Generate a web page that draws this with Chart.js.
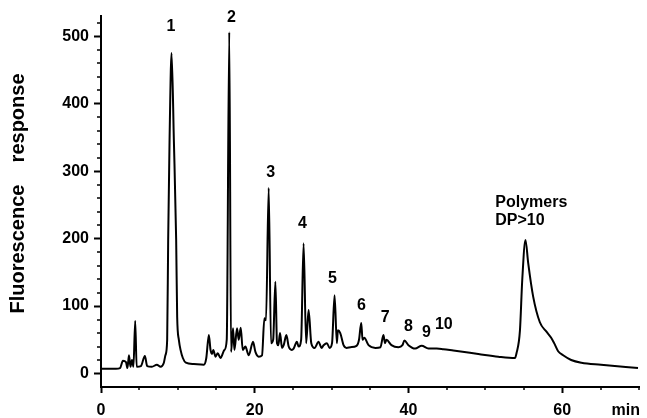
<!DOCTYPE html>
<html>
<head>
<meta charset="utf-8">
<script src="https://cdn.jsdelivr.net/npm/chart.js@4.4.1/dist/chart.umd.min.js"></script>
<style>
  html, body { margin: 0; padding: 0; background: #fff; }
  canvas { display: block; }
</style>
</head>
<body>
<canvas id="chrom" width="647" height="418"></canvas>
<script>
// Retention time (min) and fluorescence response
const times = [0, 1.95, 2.47, 2.86, 3.25, 3.44, 3.64, 3.83, 4.03, 4.22, 4.45, 4.64, 5.19, 5.71, 6.01, 6.62, 7.27, 7.75, 8.18, 8.38,
  8.61, 8.74, 8.92, 9.18, 9.48, 9.78, 9.91, 10.13, 10.35, 10.65, 11.04, 12.08, 13.38, 13.7, 14.03, 14.25, 14.45, 14.61, 14.9, 15.19,
  15.55, 16.06, 16.36, 16.69, 16.92, 17.18, 17.36, 17.7, 17.92, 18.18, 18.44, 18.79, 19.22, 19.78, 20.09, 20.52, 20.95, 21.26, 21.47, 21.82,
  22.12, 22.4, 22.69, 22.9, 23.08, 23.29, 23.55, 23.77, 24.12, 24.42, 24.81, 25.06, 25.49, 25.71, 26.04, 26.36, 26.69, 27.01, 27.36, 27.79,
  28.31, 28.7, 28.96, 29.39, 29.74, 30.06, 30.39, 30.69, 30.82, 31.13, 31.56, 31.95, 32.47, 33.25, 33.57, 33.86, 34.03, 34.25, 34.81, 35.71,
  36.36, 36.75, 36.95, 37.14, 37.79, 38.7, 39.22, 39.48, 40.0, 40.87, 41.73, 42.6, 43.68, 44.55, 45.84, 49.09, 51.69, 53.86, 54.06, 54.51,
  54.81, 55.23, 55.58, 56.23, 57.1, 57.96, 58.57, 58.96, 59.48, 60.13, 61.17, 62.51, 65.06, 69.87];
const response = [7, 7, 8, 19, 17, 8, 27, 10, 20, 10, 78, 10, 11, 26, 11, 10, 13, 10, 16, 27,
  50, 198, 346, 475, 346, 198, 84, 50, 35, 23, 16, 14, 13, 23, 57, 35, 29, 35, 25, 30,
  23, 35, 50, 506, 32, 67, 35, 67, 50, 68, 35, 40, 27, 47, 32, 25, 27, 82, 79, 275,
  45, 50, 136, 45, 42, 60, 38, 42, 57, 40, 35, 37, 47, 40, 50, 193, 45, 94, 45, 38,
  47, 38, 42, 45, 38, 45, 116, 45, 64, 60, 42, 38, 39, 41, 50, 75, 50, 53, 42, 38,
  39, 57, 45, 50, 42, 39, 42, 49, 42, 37, 41, 37, 37, 36, 34, 29, 25, 23, 30, 64,
  139, 198, 164, 114, 76, 62, 53, 45, 33, 27, 20, 16, 13, 8];

// Peak annotations (label text and where it sits, in min / response units)
const peakNames = ['1', '2', '3', '4', '5', '6', '7', '8', '9', '10'];
const peakLabelTimes = [9.1, 16.97, 22.08, 26.2, 30.13, 33.9, 36.97, 40.0, 42.34, 44.61];
const peakLabelLevels = [514, 527, 298, 222, 140, 100, 83, 70, 60, 72];
const polymerLines = ['Polymers', 'DP>10'];
const polymerTime = 51.3;
const polymerLevels = [254, 226];

const xTickLabels = [0, 20, 40, 60];
const yTickLabels = [0, 100, 200, 300, 400, 500];

const FONT = '"Liberation Sans", Arial, sans-serif';

const decor = {
  id: 'decor',
  afterDraw(chart) {
    const { ctx, scales: { x, y } } = chart;
    ctx.save();
    ctx.strokeStyle = '#000';
    ctx.lineWidth = 1.5;

    // minor ticks
    ctx.beginPath();
    x.ticks.forEach(t => {
      if (!xTickLabels.includes(t.value) && t.value > 0) {
        const px = Math.round(x.getPixelForValue(t.value));
        ctx.moveTo(px, x.top);
        ctx.lineTo(px, x.top + 3);
      }
    });
    y.ticks.forEach(t => {
      if (!yTickLabels.includes(t.value) && t.value > 0) {
        const py = Math.round(y.getPixelForValue(t.value));
        ctx.moveTo(y.right, py);
        ctx.lineTo(y.right - 4, py);
      }
    });
    ctx.stroke();

    ctx.fillStyle = '#000';

    // peak numbers
    ctx.font = 'bold 16px ' + FONT;
    ctx.textAlign = 'center';
    ctx.textBaseline = 'middle';
    peakNames.forEach((name, i) => {
      ctx.fillText(name, x.getPixelForValue(peakLabelTimes[i]), y.getPixelForValue(peakLabelLevels[i]));
    });
    ctx.textAlign = 'left';
    polymerLines.forEach((line, i) => {
      ctx.fillText(line, x.getPixelForValue(polymerTime), y.getPixelForValue(polymerLevels[i]));
    });

    // unit at the end of the time axis
    ctx.textAlign = 'right';
    ctx.textBaseline = 'alphabetic';
    ctx.fillText('min', x.right + 1, 415);

    // y axis title
    ctx.translate(18, (chart.chartArea.top + chart.chartArea.bottom) / 2 - 8);
    ctx.rotate(-Math.PI / 2);
    ctx.textAlign = 'center';
    ctx.textBaseline = 'middle';
    ctx.font = 'bold 20px ' + FONT;
    ctx.fillText('Fluorescence    response', 0, 0);
    ctx.restore();
  }
};

new Chart(document.getElementById('chrom'), {
  type: 'line',
  data: {
    datasets: [{
      data: times.map((t, i) => ({ x: t, y: response[i] })),
      borderColor: '#000',
      borderWidth: 2,
      pointRadius: 0,
      cubicInterpolationMode: 'monotone',
      fill: false
    }]
  },
  options: {
    responsive: false,
    animation: false,
    devicePixelRatio: 1,
    layout: { padding: { top: 16, right: 7, left: 0, bottom: 0 } },
    plugins: { legend: { display: false }, tooltip: { enabled: false } },
    scales: {
      x: {
        type: 'linear',
        min: 0,
        max: 70,
        afterFit: s => { s.height = 31; },
        border: { display: true, color: '#000', width: 2 },
        grid: {
          drawOnChartArea: false,
          tickLength: 6,
          tickWidth: 2,
          tickColor: c => (c.tick && xTickLabels.includes(c.tick.value)) ? '#000' : 'rgba(0,0,0,0)'
        },
        ticks: {
          stepSize: 5,
          autoSkip: false,
          maxRotation: 0,
          includeBounds: false,
          padding: 8,
          color: '#000',
          font: { family: FONT, size: 16, weight: 'bold' },
          callback: v => xTickLabels.includes(v) ? String(v) : ''
        }
      },
      y: {
        min: -20,
        max: 530,
        afterFit: s => { s.width = 101; },
        border: { display: true, color: '#000', width: 2 },
        grid: {
          drawOnChartArea: false,
          tickLength: 7,
          tickWidth: 2,
          tickColor: c => (c.tick && yTickLabels.includes(c.tick.value)) ? '#000' : 'rgba(0,0,0,0)'
        },
        ticks: {
          stepSize: 20,
          autoSkip: false,
          includeBounds: false,
          padding: 5,
          color: '#000',
          font: { family: FONT, size: 16, weight: 'bold' },
          callback: v => yTickLabels.includes(v) ? String(v) : ''
        }
      }
    }
  },
  plugins: [decor]
});
</script>
</body>
</html>
